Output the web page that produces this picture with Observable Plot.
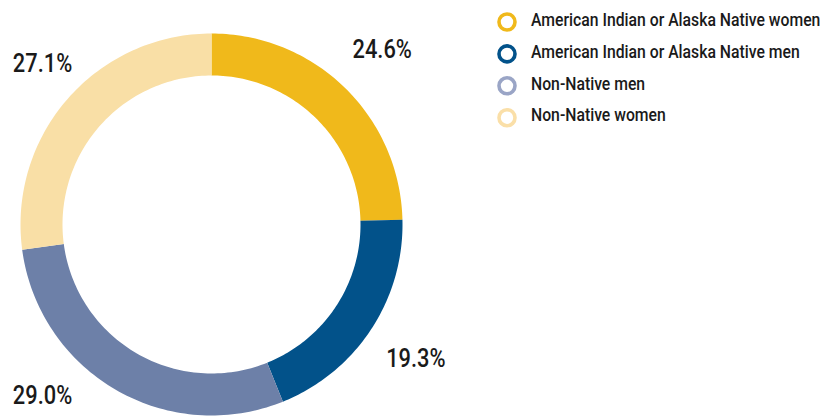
<!DOCTYPE html>
<html>
<head>
<meta charset="utf-8">
<script src="https://cdn.jsdelivr.net/npm/d3@7"></script>
<script src="https://cdn.jsdelivr.net/npm/@observablehq/plot@0.6"></script>
<style>
  html, body { margin: 0; padding: 0; background: #fff; }
  #wrap { position: relative; width: 825px; height: 416px; }
  #legend { position: absolute; left: 490px; top: 0px; }
</style>
</head>
<body>
<div id="wrap"><div id="chart"></div><svg id="legend" width="335" height="140"></svg></div>
<script>
const categories = [
  "American Indian or Alaska Native women",
  "American Indian or Alaska Native men",
  "Non-Native men",
  "Non-Native women"
];
const shares = [24.6, 19.3, 29.0, 27.1];
const labels = ["24.6%", "19.3%", "29.0%", "27.1%"];
const sliceColors = ["#F0B91B", "#02528A", "#6D80A8", "#F9DFA6"];
const legendColors = ["#F0B91B", "#02528A", "#9AA5C6", "#FADFA8"];

const FONT = "Roboto, 'Liberation Sans', sans-serif";
const inner = 149 / 191;
const pie = d3.pie().sort(null).value(d => d.share);
const data = categories.map((c, i) => ({name: c, share: shares[i], label: labels[i]}));
const arcs = pie(data);

// polygon vertices for each slice in unit space (angle clockwise from 12 o'clock)
const pts = [];
for (const a of arcs) {
  const n = 80;
  for (let k = 0; k <= n; k++) {
    const t = a.startAngle + (a.endAngle - a.startAngle) * k / n;
    pts.push({name: a.data.name, x: Math.sin(t), y: Math.cos(t)});
  }
  for (let k = n; k >= 0; k--) {
    const t = a.startAngle + (a.endAngle - a.startAngle) * k / n;
    pts.push({name: a.data.name, x: inner * Math.sin(t), y: inner * Math.cos(t)});
  }
}
// outside labels: along the mid-angle, kept inside the frame; left-half labels share a left column
const clamp = (v, lo, hi) => Math.max(lo, Math.min(hi, v));
const R = 1.28;
const labelPts = arcs.map(a => {
  const m = (a.startAngle + a.endAngle) / 2;
  const y = clamp(R * Math.cos(m), -0.895, 0.948);
  const left = Math.sin(m) < 0;
  const x = left ? -1.04 : Math.sqrt(Math.max(0, R * R - y * y));
  return {label: a.data.label, x, y, left};
});

const plot = Plot.plot({
  width: 825, height: 416,
  marginLeft: 20, marginRight: 423, marginTop: 33, marginBottom: 1,
  x: {domain: [-1, 1], axis: null},
  y: {domain: [-1, 1], axis: null},
  color: {domain: categories, range: sliceColors},
  style: {background: "transparent", overflow: "visible"},
  marks: [
    Plot.line(pts, {x: "x", y: "y", z: "name", fill: "name", stroke: "none", curve: "linear-closed"}),
    Plot.text(labelPts.filter(d => !d.left), {x: "x", y: "y", text: "label", fontSize: 26, fontWeight: 500, fill: "#1a1a1a",
      textAnchor: "middle", lineAnchor: "middle", fontFamily: FONT}),
    Plot.text(labelPts.filter(d => d.left), {x: "x", y: "y", text: "label", fontSize: 26, fontWeight: 500, fill: "#1a1a1a",
      textAnchor: "start", lineAnchor: "middle", fontFamily: FONT})
  ]
});
document.getElementById("chart").appendChild(plot);

d3.select(plot).selectAll("text").each(function() {
  const w = this.getComputedTextLength();
  this.setAttribute("textLength", (w * 0.84).toFixed(1));
  this.setAttribute("lengthAdjust", "spacingAndGlyphs");
});

// legend: ring swatches + horizontally condensed labels
const lg = d3.select("#legend");
const rows = lg.selectAll("g").data(categories).join("g")
  .attr("transform", (d, i) => `translate(0, ${22 + i * 31.9})`);
rows.append("circle").attr("cx", 17).attr("cy", 0).attr("r", 8)
  .attr("fill", "none").attr("stroke", (d, i) => legendColors[i]).attr("stroke-width", 3.6);
rows.append("g").attr("transform", "translate(41, 3.7) scale(0.83, 1)")
  .append("text").attr("x", 0).attr("y", 0)
  .attr("font-family", FONT).attr("font-size", 19).attr("font-weight", 500).attr("fill", "#1a1a1a").text(d => d);
</script>
</body>
</html>
